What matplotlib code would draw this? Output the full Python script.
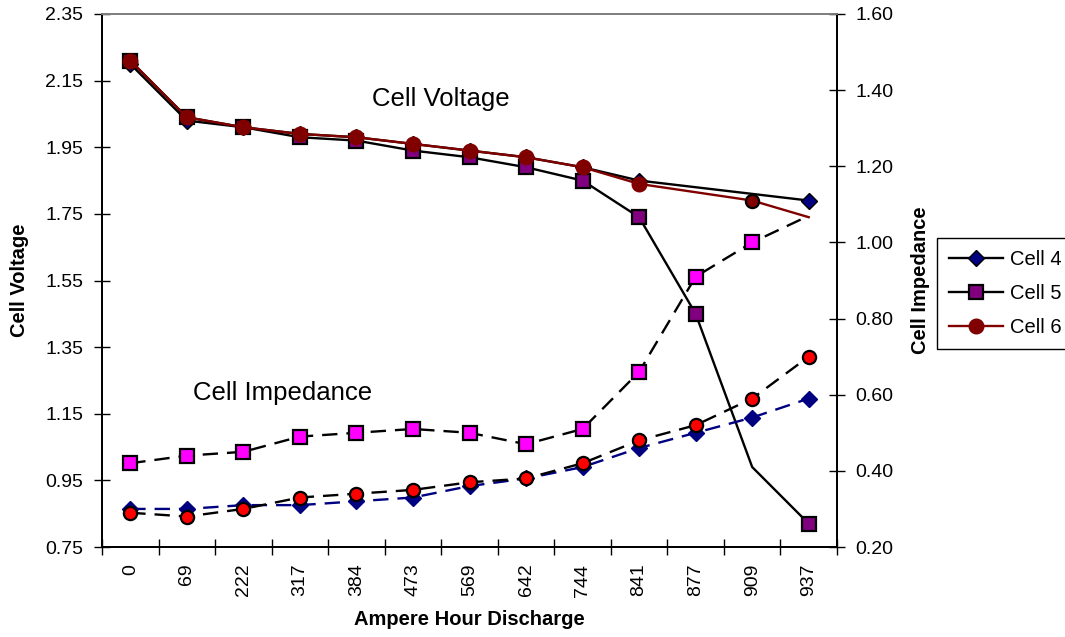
import matplotlib
matplotlib.use("Agg")
import matplotlib.pyplot as plt
import numpy as np
from matplotlib.ticker import FixedLocator, FormatStrFormatter, NullFormatter

plt.rcParams['font.family'] = ['Liberation Sans', 'DejaVu Sans']

# ---- data ----
categories = ["0", "69", "222", "317", "384", "473", "569", "642", "744", "841", "877", "909", "937"]

volt_cell4 = [2.20, 2.03, 2.01, 1.99, 1.98, 1.96, 1.94, 1.92, 1.89, 1.85, 1.83, 1.81, 1.79]
volt_cell5 = [2.21, 2.04, 2.01, 1.98, 1.97, 1.94, 1.92, 1.89, 1.85, 1.74, 1.45, 0.99, 0.82]
volt_cell6 = [2.21, 2.04, 2.01, 1.99, 1.98, 1.96, 1.94, 1.92, 1.89, 1.84, 1.815, 1.79, 1.74]

imp_cell4 = [0.30, 0.30, 0.31, 0.31, 0.32, 0.33, 0.36, 0.38, 0.41, 0.46, 0.50, 0.54, 0.59]
imp_cell5 = [0.42, 0.44, 0.45, 0.49, 0.50, 0.51, 0.50, 0.47, 0.51, 0.66, 0.91, 1.00, 1.07]
imp_cell6 = [0.29, 0.28, 0.30, 0.33, 0.34, 0.35, 0.37, 0.38, 0.42, 0.48, 0.52, 0.59, 0.70]

volt_ticks = [0.75, 0.95, 1.15, 1.35, 1.55, 1.75, 1.95, 2.15, 2.35]
imp_ticks = [0.20, 0.40, 0.60, 0.80, 1.00, 1.20, 1.40, 1.60]

# ---- figure ----
W, H = 1065, 637
fig = plt.figure(figsize=(W / 100, H / 100), dpi=100)
L, R, T, B = 102, 837, 14, 547
ax = fig.add_axes([L / W, 1 - B / H, (R - L) / W, (B - T) / H])
ax2 = ax.twinx()

x = np.arange(len(categories))
lw = 1.7
ms = 10
dash = (6.5, 3.8)

# voltage series (left axis)
all_idx = list(range(len(categories)))
l4, = ax.plot(x, volt_cell4, color='black', lw=lw, marker='D', ms=ms * 0.85,
              mfc='#000080', mec='black', mew=1.0,
              markevery=[i for i in all_idx if i not in (10, 11)], label='Cell 4', zorder=3)
l5, = ax.plot(x, volt_cell5, color='black', lw=lw, marker='s', ms=ms * 0.95,
              mfc='#800080', mec='black', mew=1.6,
              markevery=[i for i in all_idx if i != 11], label='Cell 5', zorder=4)
l6, = ax.plot(x, volt_cell6, color='#800000', lw=lw, marker='o', ms=ms * 1.05,
              mfc='#800000', mec='#800000', mew=1.0,
              markevery=[i for i in all_idx if i not in (10, 11, 12)], label='Cell 6', zorder=5)
ax.plot(x[11:12], volt_cell6[11:12], linestyle='none', marker='o', ms=ms * 0.95,
        mfc='#800000', mec='black', mew=1.6, zorder=6)

# impedance series (right axis)
ax2.plot(x, imp_cell4, color='#000080', lw=lw, dashes=dash, marker='D', ms=ms * 0.85,
         mfc='#000080', mec='#000080', zorder=3)
ax2.plot(x, imp_cell5, color='black', lw=lw, dashes=dash, marker='s', ms=ms * 0.95,
         mfc='#FF00FF', mec='black', mew=1.6, markevery=all_idx[:-1], zorder=4)
ax2.plot(x, imp_cell6, color='black', lw=lw, dashes=dash, marker='o', ms=ms * 0.95,
         mfc='#FF0000', mec='black', mew=1.6, zorder=5)

# axes limits / ticks
ax.set_xlim(-0.5, len(categories) - 0.5)
ax.set_ylim(volt_ticks[0], volt_ticks[-1])
ax2.set_ylim(imp_ticks[0], imp_ticks[-1])

ax.xaxis.set_major_locator(FixedLocator(np.arange(-0.5, len(categories), 1.0)))
ax.xaxis.set_major_formatter(NullFormatter())
ax.xaxis.set_minor_locator(FixedLocator(x))
ax.set_xticklabels(categories, minor=True, rotation=90, fontsize=14)
ax.tick_params(axis='x', which='major', direction='inout', length=12, width=1.0)
ax.tick_params(axis='x', which='minor', length=0, pad=12)

ax.set_yticks(volt_ticks)
ax.yaxis.set_major_formatter(FormatStrFormatter('%.2f'))
ax.tick_params(axis='y', direction='inout', length=11, width=1.0, labelsize=14, pad=8)

ax2.set_yticks(imp_ticks)
ax2.yaxis.set_major_formatter(FormatStrFormatter('%.2f'))
ax2.tick_params(axis='y', direction='inout', length=11, width=1.0, labelsize=14, pad=8)

for a in (ax, ax2):
    for s in ('left', 'right', 'bottom'):
        a.spines[s].set_color('black')
        a.spines[s].set_linewidth(1.3)
    a.spines['top'].set_color('#808080')
    a.spines['top'].set_linewidth(1.3)

ax.set_xlabel('Ampere Hour Discharge', fontsize=14.5, fontweight='bold', labelpad=10)
ax.set_ylabel('Cell Voltage', fontsize=14.5, fontweight='bold', labelpad=12)
ax2.set_ylabel('Cell Impedance', fontsize=14.5, fontweight='bold', labelpad=12)

ax.text(0.461, 0.8405, 'Cell Voltage', transform=ax.transAxes, ha='center', va='center', fontsize=18.5)
ax.text(0.245, 0.2895, 'Cell Impedance', transform=ax.transAxes, ha='center', va='center', fontsize=18.5)

leg = fig.legend(handles=[l4, l5, l6], loc='upper left',
                 bbox_to_anchor=(937 / W, 1 - 238 / H), borderaxespad=0,
                 fontsize=14.5, frameon=True, fancybox=False, framealpha=1,
                 edgecolor='black', handlelength=2.7, handletextpad=0.3,
                 labelspacing=0.75, borderpad=0.6)
leg.get_frame().set_linewidth(1.0)

fig.savefig('out.png', dpi=100)
